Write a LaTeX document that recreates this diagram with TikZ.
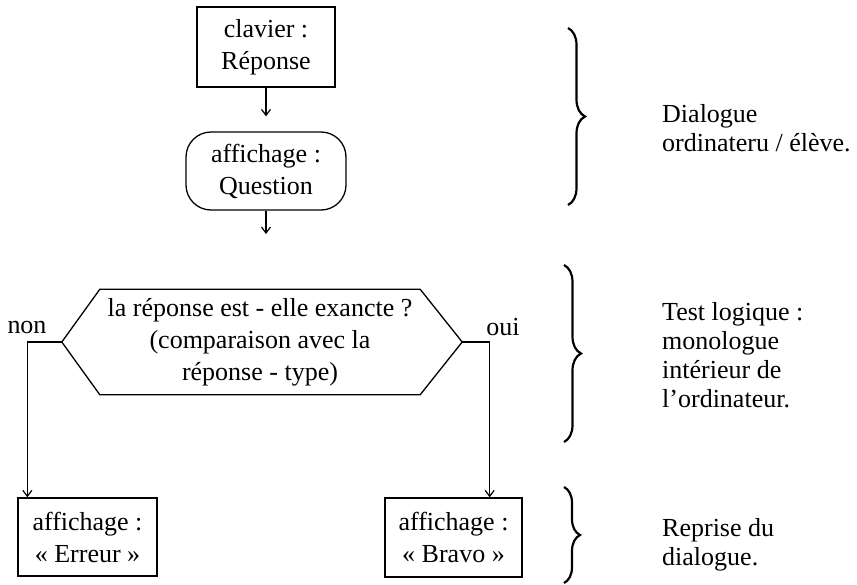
\documentclass[tikz,border=0pt]{standalone}
\usepackage{fontspec}
\setmainfont{Liberation Serif}
\usetikzlibrary{arrows.meta,decorations.pathreplacing}

\tikzset{
  box/.style={draw, line width=1.3pt, align=center, inner sep=0pt},
  link/.style={->, line width=1.2pt},
  brace/.style={decorate, decoration={brace, amplitude=17pt}, line width=2.2pt},
  note/.style={anchor=west, align=left, inner sep=0pt,
    font=\fontsize{26}{29}\selectfont},
}

\begin{document}
\begin{tikzpicture}[x=1pt, y=-1pt,
  >={Straight Barb[length=6pt,width=9pt]},
  every node/.style={font=\fontsize{26}{32}\selectfont}]
\useasboundingbox (0,0) rectangle (857,584);

% Dialogue
\node[box, minimum width=138pt, minimum height=80pt] (clavier) at (266,47)
{clavier :\\Réponse};

\node[box, rounded corners=25pt, minimum width=160pt, minimum height=78pt] (question) at (266,171)
{affichage :\\Question};

\coordinate (qout) at (266,234);

% Test logique
\node[align=center, inner sep=0pt, minimum width=320pt, minimum height=105pt] (test) at (260,342)
{la réponse est - elle exancte ?\\(comparaison avec la\\réponse - type)};

\coordinate (testL) at ([xshift=-38pt]test.west);
\coordinate (testR) at ([xshift=42pt]test.east);

\draw[line width=1.3pt] (test.north west) -- (test.north east) -- (testR)
  -- (test.south east) -- (test.south west) -- (testL) -- cycle;

\node (non) at (27,327) {non};
\node (oui) at (503,327) {oui};

% Reprise
\node[box, minimum width=139pt, minimum height=78pt] (erreur) at (87.5,537)
{affichage :\\« Erreur »};

\node[box, minimum width=137pt, minimum height=79pt] (bravo) at (453.5,537.5)
{affichage :\\« Bravo »};

% Arrows
\draw[link, shorten >=15pt] (clavier) -- (question);
\draw[link] (question) -- (qout);
\draw[link] (testL) -| ([xshift=10pt]erreur.north west);
\draw[link] (testR) -| ([xshift=-33pt]bravo.north east);

% Braces
\draw[brace] (568,28) -- (568,205);
\draw[brace] (564,265) -- (564,442);
\draw[brace, decoration={amplitude=16pt}] (564,487) -- (564,583);

\node[note] (dialogue) at (662,128) {Dialogue\\ordinateru / élève.};
\node[note] (logique) at (662,355) {Test logique :\\monologue\\intérieur de\\l'ordinateur.};
\node[note] (reprise) at (662,545) {Reprise du\\dialogue.};

\end{tikzpicture}
\end{document}
